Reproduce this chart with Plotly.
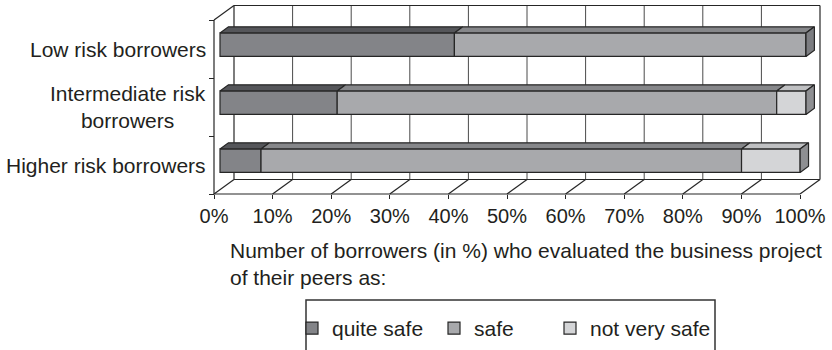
import plotly.graph_objects as go

# ---------------- data ----------------
categories = ["Higher risk borrowers", "Intermediate risk<br>borrowers", "Low risk borrowers"]
series_names = ["quite safe", "safe", "not very safe"]
quite_safe = [7, 20, 40]
safe = [82, 75, 60]
not_very_safe = [10, 5, 0]
tick_values = [0, 10, 20, 30, 40, 50, 60, 70, 80, 90, 100]
tick_labels = ["0%", "10%", "20%", "30%", "40%", "50%", "60%", "70%", "80%", "90%", "100%"]
axis_title = "Number of borrowers (in %) who evaluated the business project<br>of their peers as:"

# ---------------- styling / geometry ----------------
FONT = "Liberation Sans, Arial, Helvetica, sans-serif"
TXT = "#231f20"
EDGE = "#262626"
GRID = "#4a4a4a"
front_colors = ["#838488", "#a8a9ac", "#d4d5d7"]
top_colors = ["#55565a", "#86878a", "#bfc0c2"]
side_colors = ["#5e5f63", "#7c7d81", "#8e8f92"]

W, H = 832, 350
X0_PX, PX_PER_X = 214.0, 5.86       # x=0 pixel, pixels per percent
YB_PX, PX_PER_Y = 194.0, 58.0       # y=-0.5 pixel, pixels per category
DX = 20.0 / PX_PER_X                # depth offset (x, data units)
DY = 14.5 / PX_PER_Y                # depth offset (y, data units)
F1, F2 = 0.30, 0.72                 # bar front/back depth fractions
BAR_W = 23.5 / PX_PER_Y

plot_l, plot_r, plot_t, plot_b = 204, 828, 1, 198
xr = [(plot_l - X0_PX) / PX_PER_X, (plot_r - X0_PX) / PX_PER_X]
yr = [-0.5 - (plot_b - YB_PX) / PX_PER_Y, -0.5 + (YB_PX - plot_t) / PX_PER_Y]
pw, ph = plot_r - plot_l, plot_b - plot_t
def px_x(px):
    return (px - plot_l) / pw
def px_y(py):
    return (plot_b - py) / ph

series = [quite_safe, safe, not_very_safe]
legend_ids = ["legend", "legend2", "legend3"]
legend_left_px = [292, 434, 550]
ncat = len(categories)
ypos = list(range(ncat))

fig = go.Figure()

# front faces: bars
cum = [0.0] * ncat
bases = []
for i, vals in enumerate(series):
    base = [F1 * DX + c for c in cum]
    bases.append(base)
    fig.add_trace(go.Bar(
        y=[k + F1 * DY for k in ypos], x=vals, base=base, orientation="h",
        width=BAR_W, name=series_names[i], legend=legend_ids[i],
        marker=dict(color=front_colors[i], line=dict(color=EDGE, width=1.2)),
    ))
    cum = [c + v for c, v in zip(cum, vals)]

# 3-D top and side faces
d = F2 - F1
def poly(xs, ys, color):
    fig.add_trace(go.Scatter(
        x=xs + [xs[0]], y=ys + [ys[0]], mode="lines", fill="toself",
        fillcolor=color, line=dict(color=EDGE, width=1.2),
        showlegend=False, hoverinfo="skip"))

for k in ypos:
    yc = k + F1 * DY
    yt, yb = yc + BAR_W / 2, yc - BAR_W / 2
    last = None
    for i, vals in enumerate(series):
        v = vals[k]
        if v <= 0:
            continue
        x0 = bases[i][k]
        x1 = x0 + v
        poly([x0, x1, x1 + d * DX, x0 + d * DX], [yt, yt, yt + d * DY, yt + d * DY], top_colors[i])
        last = (i, x1)
    if last:
        i, xe = last
        poly([xe, xe, xe + d * DX, xe + d * DX], [yb, yt, yt + d * DY, yb + d * DY], side_colors[i])

# frame (walls, floor, gridlines)
shapes = []
def line(x0, y0, x1, y1, color=EDGE, width=1.2):
    shapes.append(dict(type="line", xref="x", yref="y", x0=x0, y0=y0, x1=x1, y1=y1,
                       line=dict(color=color, width=width), layer="below"))

ylo, yhi = -0.5, ncat - 0.5
for t in tick_values[1:-1]:
    line(t + DX, ylo + DY, t + DX, yhi + DY, color=GRID, width=1.0)
for t in tick_values:
    line(t, ylo, t + DX, ylo + DY)
line(DX, ylo + DY, DX, yhi + DY)
line(100 + DX, ylo + DY, 100 + DX, yhi + DY)
line(DX, yhi + DY, 100 + DX, yhi + DY)
line(DX, ylo + DY, 100 + DX, ylo + DY)
line(0, ylo, 0, yhi)
line(0, yhi, DX, yhi + DY)
line(0, ylo, 100, ylo)

# legend box (extends beyond the bottom edge, as in the original)
shapes.append(dict(type="rect", xref="paper", yref="paper",
                   x0=px_x(306), x1=px_x(715), y0=px_y(300), y1=px_y(370),
                   line=dict(color="#333333", width=1.5), layer="above"))

annotations = []
for k, c in zip(ypos, categories):
    annotations.append(dict(text=c, xref="paper", yref="y", x=px_x(X0_PX), y=k,
                            xanchor="right", yanchor="middle", xshift=-6, showarrow=False,
                            align="center", font=dict(family=FONT, size=21, color=TXT)))
annotations.append(dict(text=axis_title, xref="paper", yref="paper", x=px_x(228), y=px_y(237),
                        xanchor="left", yanchor="top", align="left", showarrow=False,
                        font=dict(family=FONT, size=21, color=TXT)))

legends = {}
for lid, lx in zip(legend_ids, legend_left_px):
    legends[lid] = dict(orientation="h", x=px_x(lx), y=px_y(308), xanchor="left", yanchor="top",
                        bgcolor="rgba(0,0,0,0)", borderwidth=0,
                        font=dict(family=FONT, size=21, color=TXT))

fig.update_layout(
    width=W, height=H,
    margin=dict(l=plot_l, r=W - plot_r, t=plot_t, b=H - plot_b, autoexpand=False),
    paper_bgcolor="white", plot_bgcolor="white",
    barmode="overlay", showlegend=True,
    shapes=shapes, annotations=annotations,
    xaxis=dict(range=xr, tickvals=tick_values, ticktext=tick_labels, showgrid=False,
               zeroline=False, showline=False, ticks="outside", ticklen=4, tickwidth=1.2,
               tickcolor=EDGE, anchor="free", position=(plot_b - YB_PX) / ph,
               tickfont=dict(family=FONT, size=20, color=TXT), fixedrange=True),
    yaxis=dict(range=yr, tickvals=[-0.5, 0.5, 1.5, 2.5], ticktext=["", "", "", ""],
               showgrid=False, zeroline=False, showline=False, ticks="outside", ticklen=5,
               tickwidth=1.2, tickcolor=EDGE, anchor="free", position=px_x(X0_PX),
               fixedrange=True),
    **legends,
)

fig.write_html("out.html")
